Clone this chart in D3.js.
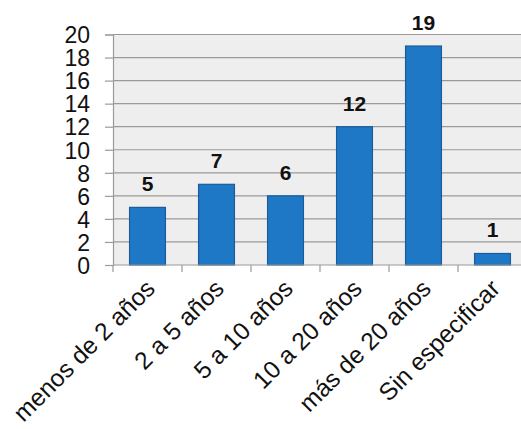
<!DOCTYPE html>
<html>
<head>
<meta charset="utf-8">
<script src="https://cdn.jsdelivr.net/npm/d3@7"></script>
<style>
  html, body { margin: 0; padding: 0; background: #fff; }
  svg { display: block; font-family: "Liberation Sans", Arial, sans-serif; }
</style>
</head>
<body>
<svg id="chart" width="521" height="429"></svg>
<script>
// Antigüedad: número de casos por rango de años
const categories = ["menos de 2 años", "2 a 5 años", "5 a 10 años", "10 a 20 años", "más de 20 años", "Sin especificar"];
const values = [5, 7, 6, 12, 19, 1];
const yTicks = [0, 2, 4, 6, 8, 10, 12, 14, 16, 18, 20];

const svg = d3.select("#chart");
const margin = { left: 113, top: 34.5, right: -6, bottom: 164 };
const W = 521, H = 429;
const plotW = W - margin.left - margin.right;
const plotH = H - margin.top - margin.bottom;

const x = d3.scaleBand().domain(categories).range([0, plotW]).paddingInner(0.48).paddingOuter(0.24);
const y = d3.scaleLinear().domain([0, 20]).range([plotH, 0]);

const g = svg.append("g").attr("transform", `translate(${margin.left},${margin.top})`);

// plot background
g.append("rect").attr("x", 0).attr("y", 0).attr("width", plotW).attr("height", plotH).attr("fill", "#eeeeee");

// horizontal gridlines
g.append("g").selectAll("line").data(yTicks.filter(d => d > 0)).join("line")
  .attr("x1", 0).attr("x2", plotW)
  .attr("y1", d => y(d)).attr("y2", d => y(d))
  .attr("stroke", "#9a9a9a").attr("stroke-width", 1.2);

// y axis
const yAxis = g.append("g").call(d3.axisLeft(y).tickValues(yTicks).tickSize(8).tickPadding(15));
yAxis.select(".domain").attr("stroke", "#9a9a9a").attr("stroke-width", 1.2);
yAxis.selectAll(".tick line").attr("stroke", "#9a9a9a").attr("stroke-width", 1.2);
yAxis.selectAll(".tick text").attr("font-size", 23).attr("fill", "#111").attr("dy", "0.36em")
  .style("font-family", "'Liberation Sans', Arial, sans-serif");

// bars
g.append("g").selectAll("rect").data(values).join("rect")
  .attr("x", (d, i) => x(categories[i]))
  .attr("y", d => y(d))
  .attr("width", x.bandwidth())
  .attr("height", d => plotH - y(d))
  .attr("fill", "#1f78c6")
  .attr("stroke", "#1a5c9a").attr("stroke-width", 1.2);

// x axis with category boundary ticks
const xAxisG = g.append("g").attr("transform", `translate(0,${plotH})`);
xAxisG.append("line").attr("x1", 0).attr("x2", plotW).attr("y1", 0).attr("y2", 0)
  .attr("stroke", "#9a9a9a").attr("stroke-width", 1.2);
const step = x.step();
const x0 = x(categories[0]) - x.paddingOuter() * step;
xAxisG.selectAll("line.b").data(d3.range(categories.length + 1)).join("line").attr("class", "b")
  .attr("x1", i => x0 + i * step).attr("x2", i => x0 + i * step)
  .attr("y1", 0).attr("y2", 7)
  .attr("stroke", "#9a9a9a").attr("stroke-width", 1.2);

// rotated category labels
xAxisG.selectAll("text").data(categories).join("text")
  .attr("transform", d => `translate(${x(d) + x.bandwidth() / 2 + 9},${25}) rotate(-45)`)
  .attr("text-anchor", "end")
  .attr("font-size", 24.5)
  .attr("fill", "#111")
  .text(d => d);

// value labels
g.append("g").selectAll("text").data(values).join("text")
  .attr("x", (d, i) => x(categories[i]) + x.bandwidth() / 2)
  .attr("y", d => y(d) - 16)
  .attr("text-anchor", "middle")
  .attr("font-size", 21)
  .attr("font-weight", "bold")
  .attr("fill", "#111")
  .text(d => d);
</script>
</body>
</html>
